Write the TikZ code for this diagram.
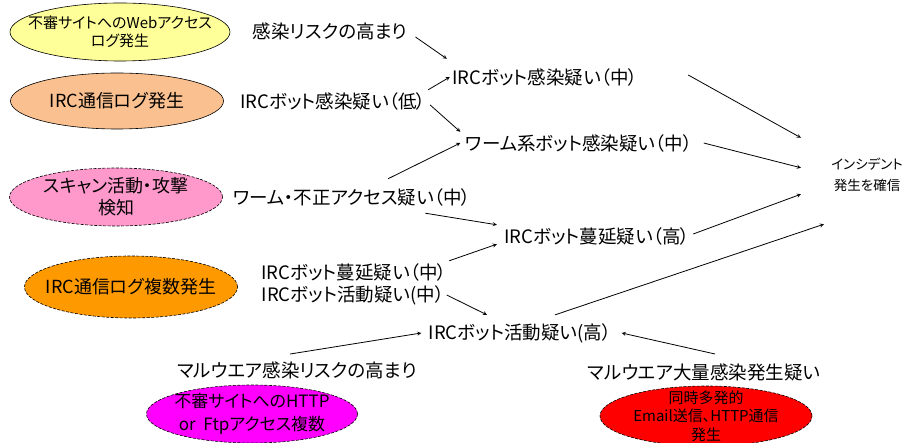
\documentclass[tikz,border=0pt]{standalone}
\usepackage{fontspec}
\setmainfont{Noto Sans CJK JP}[RawFeature=+palt]
\usetikzlibrary{shapes.geometric, arrows}

\definecolor{webyellow}{HTML}{FFFF99}
\definecolor{ircorange}{HTML}{FAC08F}
\definecolor{scanpink}{HTML}{FF99CC}
\definecolor{multiorange}{HTML}{FF9900}
\definecolor{httpmagenta}{HTML}{FF00FF}
\definecolor{mailred}{HTML}{FF0000}

\begin{document}
\begin{tikzpicture}[
    x=1pt, y=-1pt, ->, >=stealth, line width=0.8pt,
    every node/.style={font=\fontsize{18.5}{22}\selectfont, inner sep=2pt},
    source/.style={ellipse, draw, line width=0.6pt, minimum width=213pt, minimum height=56pt},
    dashsource/.style={source, dash pattern=on 3pt off 1.5pt},
    srctext/.style={align=center, font=\fontsize{18}{22}\selectfont}
]
\useasboundingbox (0,0) rectangle (911,443);

    % Sources
    \node[source, fill=webyellow, minimum width=220pt, minimum height=58pt,
          label={[srctext, font=\fontsize{15}{18}\selectfont]center:不審サイトへのWebアクセス\\ログ発生}] (WEBLOG) at (120,32) {};
    \node[source, fill=ircorange, label={[srctext]center:IRC通信ログ発生}] (IRCLOG) at (117,101) {};
    \node[dashsource, fill=scanpink, minimum height=58pt,
          label={[srctext]center:スキャン活動・攻撃\\検知}] (SCAN) at (116,197) {};
    \node[dashsource, fill=multiorange, minimum height=62pt,
          label={[srctext]center:IRC通信ログ複数発生}] (IRCMULTI) at (131,287) {};
    \node[dashsource, fill=httpmagenta, minimum width=211pt, minimum height=58pt,
          label={[srctext, font=\fontsize{17}{23}\selectfont]center:不審サイトへのHTTP\\or\ \ Ftpアクセス複数}] (HTTPFTP) at (252,414) {};
    \node[dashsource, fill=mailred, minimum width=212pt, minimum height=60pt,
          label={[srctext, font=\fontsize{15}{18.5}\selectfont]center:同時多発的\\Email送信、HTTP通信\\発生}] (MASSMAIL) at (706,416) {};

    % Suspicions
    \node (RISK) at (330,31) {感染リスクの高まり};
    \node (IRCLOW) at (333,101) {IRCボット感染疑い（低）};
    \node (IRCMID) at (545,77) {IRCボット感染疑い（中）};
    \node (WORMBOT) at (579,143) {ワーム系ボット感染疑い（中）};
    \node (WORMSUS) at (352,197) {ワーム・不正アクセス疑い（中）};
    \node (SPREADHI) at (597,236) {IRCボット蔓延疑い（高）};
    \node (SPREADMID) at (354,272) {IRCボット蔓延疑い（中）};
    \node (ACTMID) at (353,295) {IRCボット活動疑い(中）};
    \node (ACTHI) at (520,333) {IRCボット活動疑い(高）};
    \node (MALRISK) at (297,370) {マルウエア感染リスクの高まり};
    \node (MALMASS) at (704,372) {マルウエア大量感染発生疑い};
    \node[align=center, font=\fontsize{13.5}{21}\selectfont] (INCIDENT) at (867,175) {インシデント\\発生を確信};

    % Edges into the middle level
    \path ([xshift=6pt, yshift=-6pt]RISK.east) edge ([xshift=-3pt, yshift=7pt]IRCMID.north west)
          (IRCLOW.north east) edge (IRCMID.west)
          ([xshift=2pt, yshift=-4pt]IRCLOW.east) edge ([xshift=-3pt]WORMBOT.north west)
          ([xshift=36pt, yshift=7pt]WORMSUS.north) edge ([xshift=-3pt]WORMBOT.west)
          ([xshift=-48pt, yshift=-5pt]WORMSUS.south east) edge ([xshift=-5pt]SPREADHI.north west)
          (SPREADMID.north east) edge ([xshift=-5pt, yshift=3pt]SPREADHI.south west)
          (ACTMID.east) edge ([xshift=-33pt, yshift=6pt]ACTHI.north)
          ([xshift=-7pt, yshift=5pt]MALRISK.north) edge ([xshift=-5pt]ACTHI.west)
          ([xshift=11pt, yshift=7pt]MALMASS.north) edge ([xshift=8pt]ACTHI.east);

    % Edges into the incident
    \path ([xshift=48pt, yshift=2pt]IRCMID.east) edge ([xshift=-28pt, yshift=18pt]INCIDENT.north west)
          ([xshift=9pt]WORMBOT.east) edge ([xshift=-28pt, yshift=-12pt]INCIDENT.north west)
          ([xshift=1pt, yshift=2pt]SPREADHI.east) edge ([xshift=-28pt]INCIDENT.south west)
          ([xshift=35pt, yshift=6pt]ACTHI.north) edge ([xshift=-5pt, yshift=-30pt]INCIDENT.south west);

\end{tikzpicture}
\end{document}
